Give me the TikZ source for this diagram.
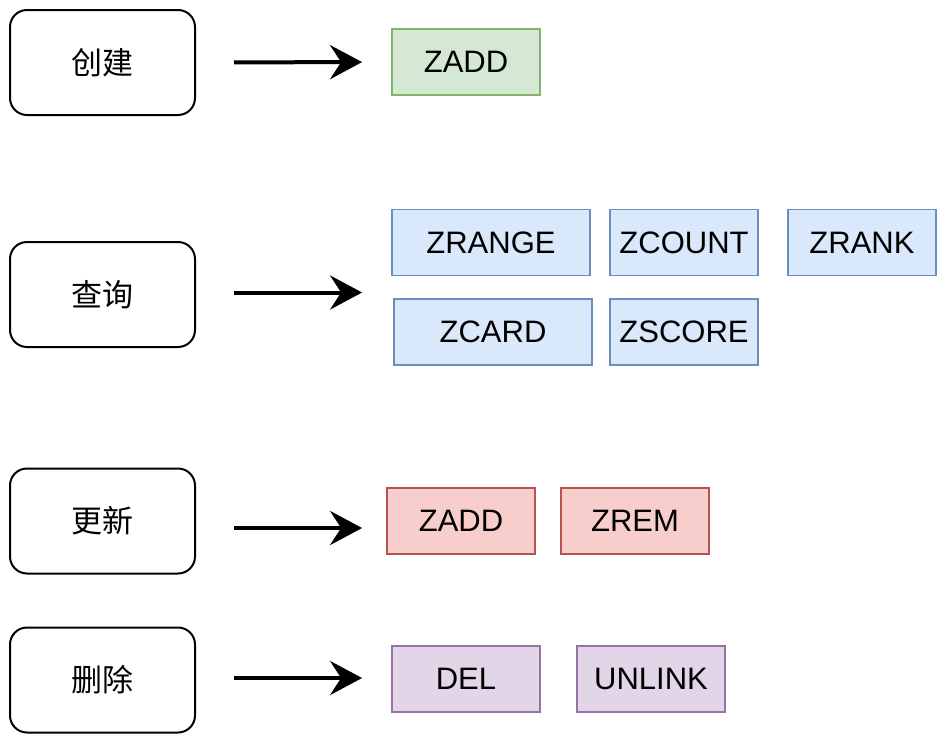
\documentclass[tikz,border=0pt]{standalone}
\usepackage{fontspec}
\setmainfont{Liberation Sans}
\newfontfamily\cjk{Noto Sans CJK SC}
\usetikzlibrary{arrows.meta}
\definecolor{gfill}{HTML}{D5E8D4}\definecolor{gline}{HTML}{82B366}
\definecolor{bfill}{HTML}{DAE8FC}\definecolor{bline}{HTML}{6C8EBF}
\definecolor{rfill}{HTML}{F8CECC}\definecolor{rline}{HTML}{B85450}
\definecolor{pfill}{HTML}{E1D5E7}\definecolor{pline}{HTML}{9673A6}
\tikzset{
  catbox/.style={draw=black, line width=2pt, rounded corners=17pt, fill=white,
    minimum width=185pt, minimum height=105pt, inner sep=0pt,
    font=\cjk\fontsize{31}{36}\selectfont},
  cmd/.style={line width=1.8pt, minimum width=148pt, minimum height=66pt, inner sep=0pt,
    font=\fontsize{31}{36}\selectfont},
  gbox/.style={cmd, draw=gline, fill=gfill},
  bbox/.style={cmd, draw=bline, fill=bfill},
  rbox/.style={cmd, draw=rline, fill=rfill},
  pbox/.style={cmd, draw=pline, fill=pfill},
  arr/.style={line width=4pt, -{Stealth[length=32pt, width=34pt, inset=11pt]}}
}
\begin{document}
\begin{tikzpicture}[x=1pt,y=-1pt]
\useasboundingbox (0,0) rectangle (945,747);
% categories
\node[catbox] (c1) at (102.5,62.5) {创建};
\node[catbox] (c2) at (102.5,294.5) {查询};
\node[catbox] (c3) at (102.5,521) {更新};
\node[catbox] (c4) at (102.5,680) {删除};
% create
\node[gbox] (g1) at (466,62) {ZADD};
% query
\node[bbox, minimum width=198pt] (b1) at (491,242.5) {ZRANGE};
\node[bbox] (b2) at (684,242.5) {ZCOUNT};
\node[bbox] (b3) at (862,242.5) {ZRANK};
\node[bbox, minimum width=198pt] (b4) at (493,332) {ZCARD};
\node[bbox] (b5) at (684,332) {ZSCORE};
% update
\node[rbox] (r1) at (461,521) {ZADD};
\node[rbox] (r2) at (635,521) {ZREM};
% delete
\node[pbox] (p1) at (466,679) {DEL};
\node[pbox] (p2) at (651,679) {UNLINK};
% arrows
\draw[arr, shorten <=38pt, shorten >=29pt] (c1.east) -- (g1.west);
\draw[arr, shorten <=38pt, shorten >=29pt] ([yshift=2pt]c2.east) -- ([yshift=2pt]c2.east -| b1.west);
\draw[arr, shorten <=38pt, shorten >=24pt] ([yshift=-7pt]c3.east) -- ([yshift=-7pt]r1.west);
\draw[arr, shorten <=38pt, shorten >=29pt] ([yshift=2pt]c4.east) -- ([yshift=2pt]c4.east -| p1.west);
\end{tikzpicture}
\end{document}
